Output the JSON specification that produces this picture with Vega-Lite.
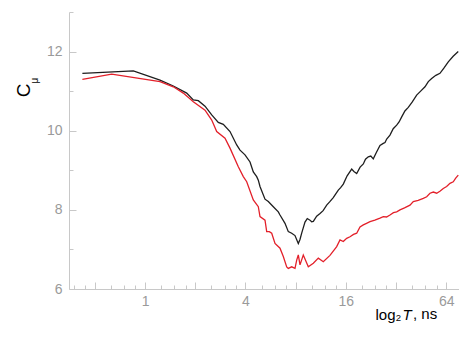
{
  "$schema": "https://vega.github.io/schema/vega-lite/v6.json",
  "width": 390,
  "height": 277,
  "autosize": "none",
  "padding": {"left": 69, "top": 12, "right": 0, "bottom": 56},
  "config": {
    "view": {"stroke": null},
    "font": "Liberation Sans",
    "axis": {"grid": false}
  },
  "title": {
    "text": ", ns",
    "orient": "bottom",
    "anchor": "start",
    "frame": "group",
    "dx": 344,
    "offset": -3,
    "baseline": "alphabetic",
    "fontSize": 15,
    "fontWeight": "normal",
    "color": "#000000",
    "font": "Liberation Sans"
  },
  "data": {
    "values": [
      {"s": "b", "T": 0.421, "C": 11.45},
      {"s": "b", "T": 0.851, "C": 11.51},
      {"s": "b", "T": 1.23, "C": 11.28},
      {"s": "b", "T": 1.478, "C": 11.13},
      {"s": "b", "T": 1.778, "C": 10.95},
      {"s": "b", "T": 1.948, "C": 10.78},
      {"s": "b", "T": 2.088, "C": 10.76},
      {"s": "b", "T": 2.29, "C": 10.62},
      {"s": "b", "T": 2.512, "C": 10.4},
      {"s": "b", "T": 2.751, "C": 10.21},
      {"s": "b", "T": 2.948, "C": 10.16},
      {"s": "b", "T": 3.234, "C": 9.98},
      {"s": "b", "T": 3.547, "C": 9.64},
      {"s": "b", "T": 3.713, "C": 9.51},
      {"s": "b", "T": 3.978, "C": 9.39},
      {"s": "b", "T": 4.263, "C": 9.21},
      {"s": "b", "T": 4.461, "C": 8.96},
      {"s": "b", "T": 4.675, "C": 8.84},
      {"s": "b", "T": 4.78, "C": 8.75},
      {"s": "b", "T": 4.893, "C": 8.59},
      {"s": "b", "T": 5.243, "C": 8.27},
      {"s": "b", "T": 5.488, "C": 8.21},
      {"s": "b", "T": 5.881, "C": 8.08},
      {"s": "b", "T": 6.3, "C": 7.95},
      {"s": "b", "T": 6.45, "C": 7.87},
      {"s": "b", "T": 6.911, "C": 7.66},
      {"s": "b", "T": 7.235, "C": 7.45},
      {"s": "b", "T": 7.58, "C": 7.41},
      {"s": "b", "T": 7.934, "C": 7.35},
      {"s": "b", "T": 8.305, "C": 7.15},
      {"s": "b", "T": 8.5, "C": 7.25},
      {"s": "b", "T": 8.703, "C": 7.41},
      {"s": "b", "T": 8.9, "C": 7.55},
      {"s": "b", "T": 9.108, "C": 7.69},
      {"s": "b", "T": 9.4, "C": 7.78},
      {"s": "b", "T": 9.76, "C": 7.74},
      {"s": "b", "T": 9.98, "C": 7.7},
      {"s": "b", "T": 10.22, "C": 7.71},
      {"s": "b", "T": 10.7, "C": 7.84},
      {"s": "b", "T": 11.21, "C": 7.91},
      {"s": "b", "T": 11.7, "C": 7.98},
      {"s": "b", "T": 12.29, "C": 8.12},
      {"s": "b", "T": 12.8, "C": 8.2},
      {"s": "b", "T": 13.46, "C": 8.31},
      {"s": "b", "T": 13.9, "C": 8.4},
      {"s": "b", "T": 14.43, "C": 8.5},
      {"s": "b", "T": 14.9, "C": 8.56},
      {"s": "b", "T": 15.46, "C": 8.65},
      {"s": "b", "T": 16.3, "C": 8.86},
      {"s": "b", "T": 17.36, "C": 9.03},
      {"s": "b", "T": 17.9, "C": 8.97},
      {"s": "b", "T": 18.6, "C": 8.92},
      {"s": "b", "T": 19.5, "C": 9.08},
      {"s": "b", "T": 20.38, "C": 9.16},
      {"s": "b", "T": 21.0, "C": 9.28},
      {"s": "b", "T": 21.83, "C": 9.34},
      {"s": "b", "T": 22.6, "C": 9.36},
      {"s": "b", "T": 23.39, "C": 9.29},
      {"s": "b", "T": 24.4, "C": 9.45},
      {"s": "b", "T": 25.66, "C": 9.63},
      {"s": "b", "T": 26.85, "C": 9.68},
      {"s": "b", "T": 27.5, "C": 9.7},
      {"s": "b", "T": 28.15, "C": 9.79},
      {"s": "b", "T": 29.45, "C": 9.89},
      {"s": "b", "T": 30.8, "C": 10.05},
      {"s": "b", "T": 32.31, "C": 10.14},
      {"s": "b", "T": 33.4, "C": 10.22},
      {"s": "b", "T": 34.63, "C": 10.35},
      {"s": "b", "T": 36.2, "C": 10.5},
      {"s": "b", "T": 37.92, "C": 10.59},
      {"s": "b", "T": 40.0, "C": 10.72},
      {"s": "b", "T": 42.58, "C": 10.9},
      {"s": "b", "T": 45.0, "C": 11.0},
      {"s": "b", "T": 47.77, "C": 11.11},
      {"s": "b", "T": 50.0, "C": 11.24},
      {"s": "b", "T": 52.38, "C": 11.32},
      {"s": "b", "T": 55.5, "C": 11.4},
      {"s": "b", "T": 58.74, "C": 11.45},
      {"s": "b", "T": 62.0, "C": 11.58},
      {"s": "b", "T": 65.89, "C": 11.74},
      {"s": "b", "T": 70.5, "C": 11.88},
      {"s": "b", "T": 75.63, "C": 12.0},
      {"s": "r", "T": 0.421, "C": 11.3},
      {"s": "r", "T": 0.631, "C": 11.43},
      {"s": "r", "T": 1.23, "C": 11.24},
      {"s": "r", "T": 1.478, "C": 11.11},
      {"s": "r", "T": 1.697, "C": 10.95},
      {"s": "r", "T": 1.948, "C": 10.73},
      {"s": "r", "T": 2.29, "C": 10.52},
      {"s": "r", "T": 2.512, "C": 10.27},
      {"s": "r", "T": 2.691, "C": 9.98},
      {"s": "r", "T": 3.018, "C": 9.81},
      {"s": "r", "T": 3.234, "C": 9.56},
      {"s": "r", "T": 3.627, "C": 9.09},
      {"s": "r", "T": 3.886, "C": 8.84},
      {"s": "r", "T": 4.073, "C": 8.71},
      {"s": "r", "T": 4.461, "C": 8.25},
      {"s": "r", "T": 4.78, "C": 8.08},
      {"s": "r", "T": 4.893, "C": 7.83},
      {"s": "r", "T": 5.243, "C": 7.74},
      {"s": "r", "T": 5.368, "C": 7.45},
      {"s": "r", "T": 5.564, "C": 7.45},
      {"s": "r", "T": 5.752, "C": 7.41},
      {"s": "r", "T": 6.02, "C": 7.15},
      {"s": "r", "T": 6.45, "C": 7.03},
      {"s": "r", "T": 6.751, "C": 6.82},
      {"s": "r", "T": 7.075, "C": 6.56},
      {"s": "r", "T": 7.235, "C": 6.52},
      {"s": "r", "T": 7.58, "C": 6.56},
      {"s": "r", "T": 7.934, "C": 6.52},
      {"s": "r", "T": 8.123, "C": 6.73},
      {"s": "r", "T": 8.305, "C": 6.86},
      {"s": "r", "T": 8.501, "C": 6.61},
      {"s": "r", "T": 8.896, "C": 6.86},
      {"s": "r", "T": 9.534, "C": 6.56},
      {"s": "r", "T": 10.22, "C": 6.65},
      {"s": "r", "T": 10.95, "C": 6.78},
      {"s": "r", "T": 11.73, "C": 6.69},
      {"s": "r", "T": 12.86, "C": 6.85},
      {"s": "r", "T": 14.11, "C": 7.07},
      {"s": "r", "T": 14.77, "C": 7.24},
      {"s": "r", "T": 15.46, "C": 7.2},
      {"s": "r", "T": 16.2, "C": 7.28},
      {"s": "r", "T": 16.96, "C": 7.32},
      {"s": "r", "T": 17.8, "C": 7.38},
      {"s": "r", "T": 18.6, "C": 7.41},
      {"s": "r", "T": 19.47, "C": 7.57},
      {"s": "r", "T": 20.38, "C": 7.62},
      {"s": "r", "T": 21.3, "C": 7.66},
      {"s": "r", "T": 22.35, "C": 7.7},
      {"s": "r", "T": 23.9, "C": 7.74},
      {"s": "r", "T": 25.66, "C": 7.79},
      {"s": "r", "T": 26.85, "C": 7.83},
      {"s": "r", "T": 28.1, "C": 7.82},
      {"s": "r", "T": 29.45, "C": 7.87},
      {"s": "r", "T": 30.9, "C": 7.93},
      {"s": "r", "T": 32.31, "C": 7.95},
      {"s": "r", "T": 33.82, "C": 8.0},
      {"s": "r", "T": 36.0, "C": 8.05},
      {"s": "r", "T": 38.83, "C": 8.12},
      {"s": "r", "T": 40.64, "C": 8.21},
      {"s": "r", "T": 43.5, "C": 8.24},
      {"s": "r", "T": 46.66, "C": 8.29},
      {"s": "r", "T": 48.9, "C": 8.33},
      {"s": "r", "T": 51.17, "C": 8.42},
      {"s": "r", "T": 53.6, "C": 8.45},
      {"s": "r", "T": 56.14, "C": 8.42},
      {"s": "r", "T": 58.7, "C": 8.47},
      {"s": "r", "T": 61.49, "C": 8.54},
      {"s": "r", "T": 64.4, "C": 8.59},
      {"s": "r", "T": 67.45, "C": 8.67},
      {"s": "r", "T": 70.58, "C": 8.71},
      {"s": "r", "T": 73.0, "C": 8.8},
      {"s": "r", "T": 75.63, "C": 8.88}
    ]
  },
  "layer": [
    {
      "transform": [{"filter": "datum.s == 'b'"}],
      "mark": {"type": "line", "color": "#1e1e1e", "strokeWidth": 1.3},
      "encoding": {
        "x": {
          "field": "T",
          "type": "quantitative",
          "scale": {"type": "log", "base": 2, "domain": [0.35, 76.4], "nice": false},
          "axis": {
            "orient": "bottom",
            "values": [0.375, 0.4375, 0.5, 0.625, 0.75, 0.875, 1, 1.25, 1.5, 1.75, 2, 2.5, 3, 3.5, 4, 5, 6, 7, 8, 10, 12, 14, 16, 20, 24, 28, 32, 40, 48, 56, 64],
            "labelExpr": "(datum.value == 1 || datum.value == 4 || datum.value == 16 || datum.value == 64) ? format(datum.value, 'd') : ''",
            "labelOverlap": false,
            "labelFlush": false,
            "labelColor": "#9a9a9a",
            "labelFontSize": 14,
            "labelPadding": 5,
            "domainColor": "#c8c8c8",
            "tickColor": "#c8c8c8",
            "tickSize": 0,
            "encoding": {
              "ticks": {
                "y2": {
                  "condition": {"test": "abs(log(datum.value) / LN2 - round(log(datum.value) / LN2)) < 0.01", "value": -7},
                  "value": -4
                }
              }
            },
            "title": "log₂",
            "titleX": 306,
            "titleY": 30,
            "titleAlign": "left",
            "titleBaseline": "alphabetic",
            "titleFontSize": 15,
            "titleFontWeight": "normal",
            "titleColor": "#000000"
          }
        },
        "y": {
          "field": "C",
          "type": "quantitative",
          "scale": {"domain": [6, 13], "nice": false, "zero": false},
          "axis": {
            "orient": "left",
            "values": [6, 7, 8, 9, 10, 11, 12, 13],
            "labelExpr": "datum.value % 2 == 0 ? datum.label : ''",
            "labelColor": "#9a9a9a",
            "labelFontSize": 14,
            "labelPadding": 7,
            "domainColor": "#c8c8c8",
            "tickColor": "#c8c8c8",
            "tickSize": 0,
            "encoding": {
              "ticks": {
                "x2": {
                  "condition": {"test": "datum.value % 2 == 0", "value": 7},
                  "value": 4
                }
              }
            },
            "title": "C",
            "titleX": -40,
            "titleY": 78,
            "titleAngle": -90,
            "titleAlign": "center",
            "titleBaseline": "alphabetic",
            "titleFontSize": 19,
            "titleFontWeight": "normal",
            "titleColor": "#000000"
          }
        }
      }
    },
    {
      "transform": [{"filter": "datum.s == 'r'"}],
      "mark": {"type": "line", "color": "#e3202a", "strokeWidth": 1.3},
      "encoding": {
        "x": {
          "field": "T",
          "type": "quantitative",
          "axis": {
            "orient": "bottom",
            "domain": false,
            "ticks": false,
            "labels": false,
            "title": "T",
            "titleX": 333,
            "titleY": 30,
            "titleAlign": "left",
            "titleBaseline": "alphabetic",
            "titleFontSize": 15,
            "titleFontStyle": "italic",
            "titleFontWeight": "normal",
            "titleColor": "#000000"
          }
        },
        "y": {
          "field": "C",
          "type": "quantitative",
          "axis": {
            "orient": "left",
            "domain": false,
            "ticks": false,
            "labels": false,
            "title": "μ",
            "titleX": -32,
            "titleY": 68,
            "titleAngle": -90,
            "titleAlign": "center",
            "titleBaseline": "alphabetic",
            "titleFontSize": 10,
            "titleFontWeight": "normal",
            "titleColor": "#000000"
          }
        }
      }
    }
  ],
  "resolve": {"axis": {"x": "independent", "y": "independent"}}
}
